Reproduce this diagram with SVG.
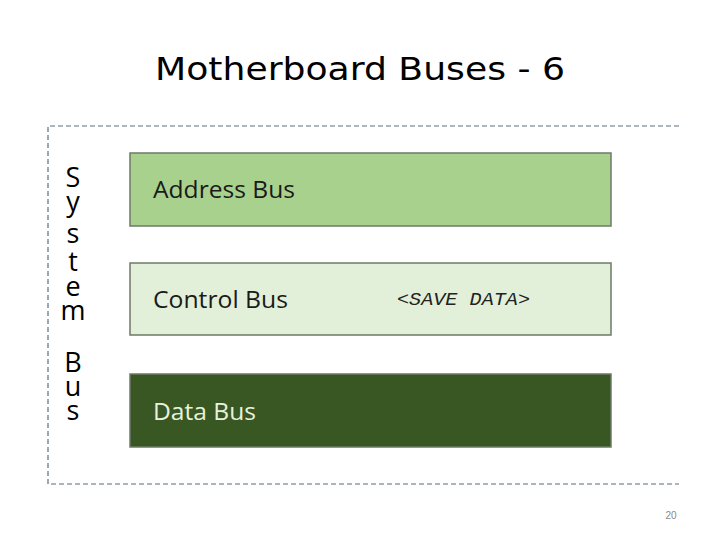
<svg xmlns="http://www.w3.org/2000/svg" width="720" height="540" viewBox="0 0 720 540">
<style>
.title{font-family:"DejaVu Sans",Verdana,sans-serif;font-size:32px;fill:#000}
.lbl{font-family:"Open Sans","Liberation Sans",sans-serif;font-size:23px}
.vert{font-family:"Open Sans","Liberation Sans",sans-serif;font-size:27px;fill:#000;text-anchor:middle}
.box{stroke:#6d7a66;stroke-width:1.5}
.frame{fill:none;stroke:#5a6f7d;stroke-width:1.2;stroke-dasharray:5 3}
.code{font-family:"Courier New","Nimbus Mono PS","FreeMono","Liberation Mono",monospace;font-style:italic;font-size:19px;fill:#222}
.pg{font-family:"Liberation Sans",Arial,sans-serif;font-size:10px;fill:#888}
</style>
<rect width="720" height="540" fill="#fff"/>
<text class="title" x="360" y="80" text-anchor="middle" textLength="410" lengthAdjust="spacingAndGlyphs">Motherboard Buses - 6</text>
<g id="frame">
<path class="frame" d="M679,126 H48 V484 H679"/>
</g>
<g id="system-bus-label">
<text class="vert" x="73" y="187">S</text>
<text class="vert" x="73" y="211">y</text>
<text class="vert" x="73" y="243">s</text>
<text class="vert" x="73" y="271">t</text>
<text class="vert" x="73" y="296">e</text>
<text class="vert" x="73" y="320">m</text>
<text class="vert" x="73" y="372">B</text>
<text class="vert" x="73" y="396">u</text>
<text class="vert" x="73" y="420">s</text>
</g>
<g id="address-bus">
<rect class="box" x="130" y="153" width="481" height="73" fill="#a9d18e"/>
<text class="lbl" x="153" y="198" fill="#1a1a1a" textLength="142" lengthAdjust="spacingAndGlyphs">Address Bus</text>
</g>
<g id="control-bus">
<rect class="box" x="130" y="263" width="481" height="72" fill="#e2efd9"/>
<text class="lbl" x="153" y="308" fill="#1a1a1a" textLength="135" lengthAdjust="spacingAndGlyphs">Control Bus</text>
<text class="code" x="397" y="305" textLength="133" lengthAdjust="spacingAndGlyphs">&lt;SAVE DATA&gt;</text>
</g>
<g id="data-bus">
<rect class="box" x="130" y="374" width="481" height="73" fill="#385723" stroke="#2a3d1c"/>
<text class="lbl" x="153" y="420" fill="#e6f2dc" textLength="103" lengthAdjust="spacingAndGlyphs">Data Bus</text>
</g>
<g id="connectors"/>
<text class="pg" x="671" y="519" text-anchor="middle">20</text>
</svg>
